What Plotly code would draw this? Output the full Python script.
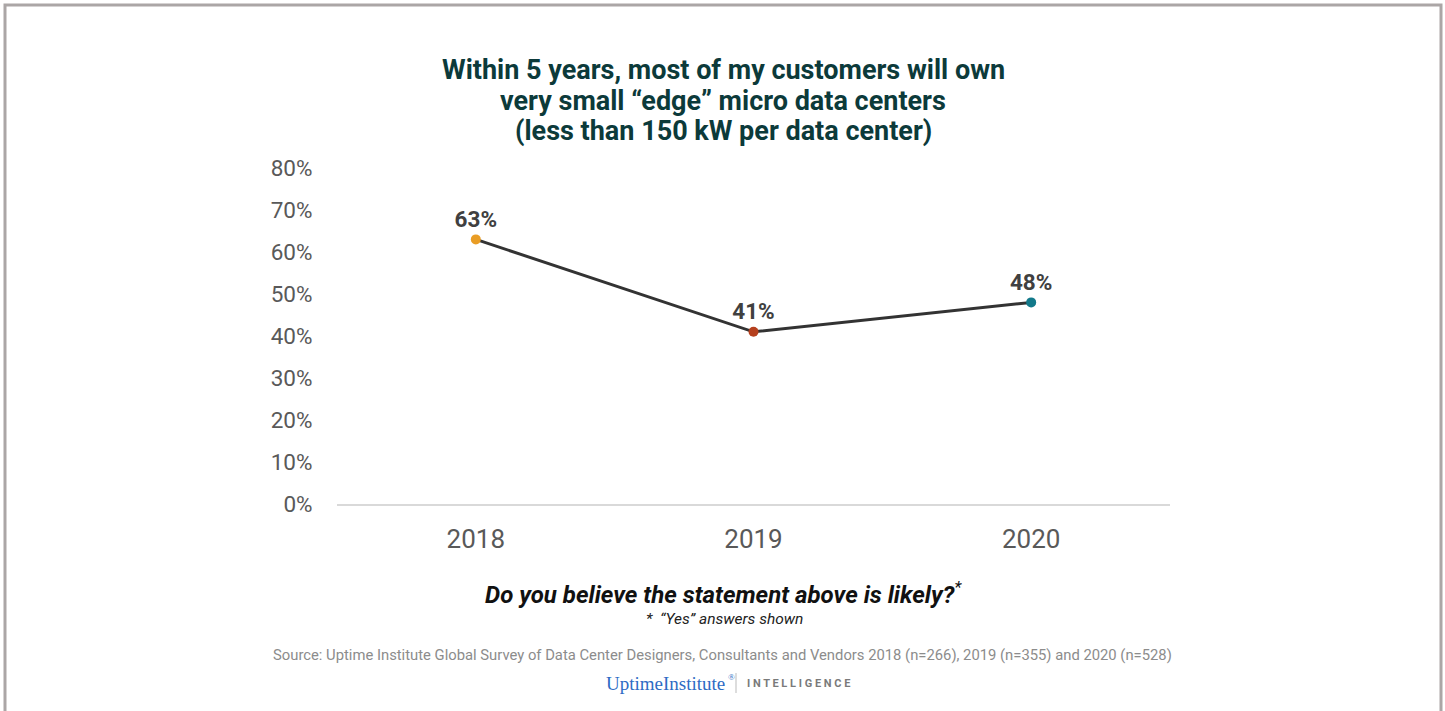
import plotly.graph_objects as go

# Survey results: share of "Yes" answers by year
years = ["2018", "2019", "2020"]
yes_share = [0.63, 0.41, 0.48]
point_colors = ["#E99D25", "#B5401E", "#12798A"]
y_ticks = [0, 0.1, 0.2, 0.3, 0.4, 0.5, 0.6, 0.7, 0.8]
title_lines = [
    "Within 5 years, most of my customers will own",
    "very small “edge” micro data centers",
    "(less than 150 kW per data center)",
]

W, H = 1445, 711
L, R, T, B = 337, 275, 168, 207
PW, PH = W - L - R, H - T - B


def px(x):
    return (x - L) / PW


def py(y):
    return (H - B - y) / PH


fig = go.Figure()
fig.add_trace(go.Scatter(
    x=years, y=yes_share, mode="lines+markers+text",
    line=dict(color="#333333", width=3),
    marker=dict(size=10, color=point_colors),
    text=[f"{v:.0%}" for v in yes_share],
    textposition="top center",
    textfont=dict(family="Roboto", size=22.5, color="#404040", weight="bold"),
    cliponaxis=False, hoverinfo="skip",
))

annotations = []
for line_text, y_pix in zip(title_lines, [70, 101, 131]):
    annotations.append(dict(
        x=px(723), y=py(y_pix), xref="paper", yref="paper",
        text=line_text, showarrow=False, xanchor="center", yanchor="middle",
        font=dict(family="Roboto", size=27, color="#0C3A3A", weight="bold")))

annotations += [
    dict(x=px(723), y=py(593), xref="paper", yref="paper",
         text="<b><i>Do you believe the statement above is likely?</i></b><sup><i>*</i></sup>",
         showarrow=False, xanchor="center", yanchor="middle",
         font=dict(family="Roboto", size=24, color="#111111")),
    dict(x=px(724), y=py(619), xref="paper", yref="paper",
         text="<i>*  “Yes” answers shown</i>",
         showarrow=False, xanchor="center", yanchor="middle",
         font=dict(family="Roboto", size=15.5, color="#222222")),
    dict(x=px(722), y=py(655), xref="paper", yref="paper",
         text="Source: Uptime Institute Global Survey of Data Center Designers, Consultants and Vendors 2018 (n=266), 2019 (n=355) and 2020 (n=528)",
         showarrow=False, xanchor="center", yanchor="middle",
         font=dict(family="Roboto", size=14.8, color="#8C8C8C")),
    dict(x=px(727), y=py(683), xref="paper", yref="paper",
         text="UptimeInstitute",
         showarrow=False, xanchor="right", yanchor="middle",
         font=dict(family="Liberation Serif", size=19, color="#2D6BC4")),
    dict(x=px(726), y=py(677), xref="paper", yref="paper",
         text="®",
         showarrow=False, xanchor="left", yanchor="middle",
         font=dict(family="Liberation Serif", size=9, color="#2D6BC4")),
    dict(x=px(745), y=py(683), xref="paper", yref="paper",
         text="I N T E L L I G E N C E",
         showarrow=False, xanchor="left", yanchor="middle",
         font=dict(family="Roboto", size=11, color="#7A7A7A", weight="bold")),
]

shapes = [
    # frame around the slide
    dict(type="rect", xref="paper", yref="paper",
         x0=px(5), x1=px(1441), y0=py(5), y1=py(760),
         line=dict(color="#ABA6A6", width=3), layer="below"),
    # separator in the logo line
    dict(type="line", xref="paper", yref="paper",
         x0=px(736), x1=px(736), y0=py(673), y1=py(693),
         line=dict(color="#BBBBBB", width=1)),
]

fig.update_layout(
    width=W, height=H,
    margin=dict(l=L, r=R, t=T, b=B),
    paper_bgcolor="white", plot_bgcolor="white",
    showlegend=False,
    annotations=annotations, shapes=shapes,
    xaxis=dict(type="category", range=[-0.5, 2.5], showgrid=False,
               showline=True, linecolor="#D9D9D9", linewidth=1.5,
               ticks="outside", ticklen=11, tickcolor="rgba(0,0,0,0)",
               tickfont=dict(family="Roboto", size=26, color="#595959"),
               zeroline=False, fixedrange=True),
    yaxis=dict(range=[0, 0.8], tickvals=y_ticks, tickformat=".0%",
               showgrid=False, showline=False, zeroline=False,
               ticks="outside", ticklen=19, tickcolor="rgba(0,0,0,0)",
               tickfont=dict(family="Roboto", size=22.5, color="#595959"),
               fixedrange=True),
)

fig.write_html("out.html")
